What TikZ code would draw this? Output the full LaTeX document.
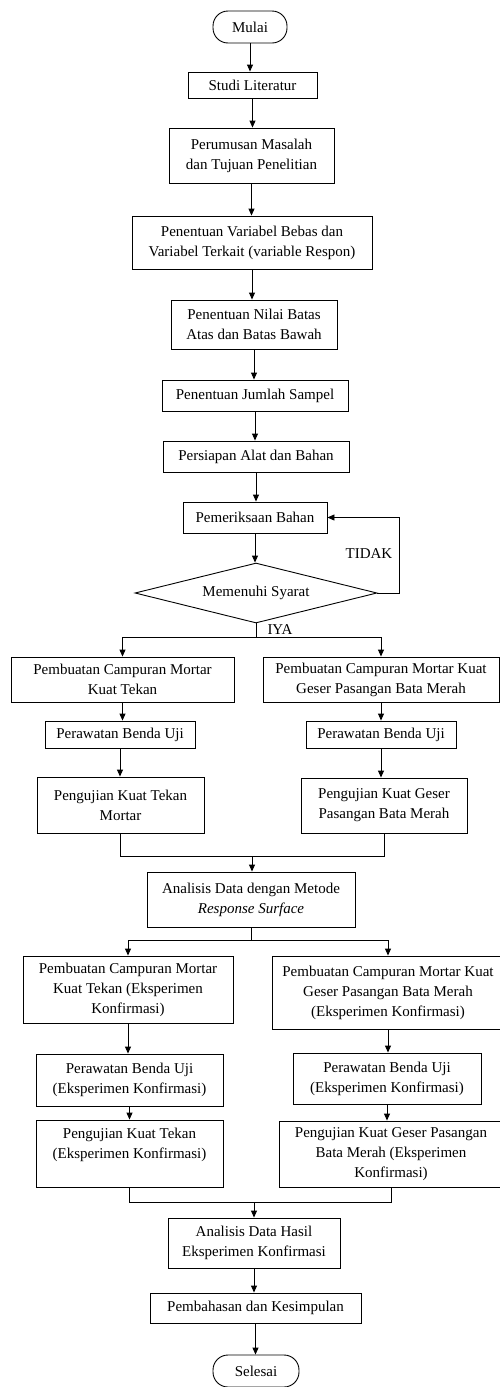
\documentclass[tikz,border=0pt]{standalone}
\usepackage{fontspec}
\setmainfont{Liberation Serif}
\usepackage{tikz}
\usetikzlibrary{positioning, arrows.meta, shapes.geometric}

\begin{document}
\begin{tikzpicture}[x=1pt, y=-1pt,
    box/.style={draw=black, line width=0.9pt, align=center, inner sep=3pt,
                font=\fontsize{15}{20}\selectfont},
    terminal/.style={box, rounded corners=15pt},
    decision/.style={box, diamond, aspect=4, inner sep=1pt},
    label/.style={font=\fontsize{15}{20}\selectfont, inner sep=0pt},
    arr/.style={-{Triangle[length=7pt, width=6pt]}, line width=0.9pt},
    line/.style={line width=0.9pt}]
    \useasboundingbox (0,0) rectangle (500,1387);

    % main column
    \node[terminal, minimum width=74, minimum height=32] (mulai) at (250,27) {Mulai};
    \node[box, minimum width=129, minimum height=26] (studi) at (252.5,85) {Studi Literatur};
    \node[box, minimum width=165, minimum height=55] (rumus) at (251.5,155.5)
        {Perumusan Masalah\\dan Tujuan Penelitian};
    \node[box, minimum width=240, minimum height=53] (variabel) at (252,242.5)
        {Penentuan Variabel Bebas dan\\Variabel Terkait (variable Respon)};
    \node[box, minimum width=166, minimum height=49] (batas) at (254,324.5)
        {Penentuan Nilai Batas\\Atas dan Batas Bawah};
    \node[box, minimum width=186, minimum height=31] (sampel) at (255,395.5) {Penentuan Jumlah Sampel};
    \node[box, minimum width=186, minimum height=31] (persiapan) at (256,456.5) {Persiapan Alat dan Bahan};
    \node[box, minimum width=144, minimum height=31] (periksa) at (255,517.5) {Pemeriksaan Bahan};
    \node[decision, minimum width=242, minimum height=60] (syarat) at (256,593) {Memenuhi Syarat};
    \coordinate (pisah1) at (256,637);

    % first branch
    \node[box, minimum width=223, minimum height=45] (tekanA) at (122.5,679.5)
        {Pembuatan Campuran Mortar\\Kuat Tekan};
    \node[box, minimum width=236, minimum height=45] (geserA) at (381,679.5)
        {Pembuatan Campuran Mortar Kuat\\Geser Pasangan Bata Merah};
    \node[box, minimum width=150, minimum height=27] (rawatA) at (120,734.5) {Perawatan Benda Uji};
    \node[box, minimum width=150, minimum height=27] (rawatB) at (381,734.5) {Perawatan Benda Uji};
    \node[box, minimum width=167, minimum height=56] (ujiA) at (120.5,805)
        {Pengujian Kuat Tekan\\Mortar};
    \node[box, minimum width=166, minimum height=55] (ujiB) at (384,805.5)
        {Pengujian Kuat Geser\\Pasangan Bata Merah};
    \coordinate (gabung1) at (252,856);

    \node[box, minimum width=208, minimum height=55] (analisis) at (251,899.5)
        {Analisis Data dengan Metode\\\textit{Response Surface}};
    \coordinate (pisah2) at (251,940);

    % confirmation branch
    \node[box, minimum width=210, minimum height=67] (tekanK) at (128,989.5)
        {Pembuatan Campuran Mortar\\Kuat Tekan (Eksperimen\\Konfirmasi)};
    \node[box, minimum width=232, minimum height=73] (geserK) at (388,992.5)
        {Pembuatan Campuran Mortar Kuat\\Geser Pasangan Bata Merah\\(Eksperimen Konfirmasi)};
    \node[box, minimum width=187, minimum height=52] (rawatKA) at (129.5,1080)
        {Perawatan Benda Uji\\(Eksperimen Konfirmasi)};
    \node[box, minimum width=188, minimum height=51] (rawatKB) at (387,1078.5)
        {Perawatan Benda Uji\\(Eksperimen Konfirmasi)};
    \node[box, minimum width=187, minimum height=67] (ujiKA) at (129.5,1153.5)
        {Pengujian Kuat Tekan\\(Eksperimen Konfirmasi)\\~};
    \node[box, minimum width=224, minimum height=66] (ujiKB) at (391,1154)
        {Pengujian Kuat Geser Pasangan\\Bata Merah (Eksperimen\\Konfirmasi)};
    \coordinate (gabung2) at (254,1202);

    \node[box, minimum width=172, minimum height=50] (hasil) at (254,1243)
        {Analisis Data Hasil\\Eksperimen Konfirmasi};
    \node[box, minimum width=211, minimum height=30] (bahas) at (255.5,1308) {Pembahasan dan Kesimpulan};
    \node[terminal, minimum width=86, minimum height=32] (selesai) at (256,1371) {Selesai};

    % connectors
    \draw[arr] (mulai) -- (mulai |- studi.north);
    \draw[arr] (studi) -- (studi |- rumus.north);
    \draw[arr] (rumus) -- (rumus |- variabel.north);
    \draw[arr] (variabel) -- (variabel |- batas.north);
    \draw[arr] (batas) -- (batas |- sampel.north);
    \draw[arr] (sampel) -- (sampel |- persiapan.north);
    \draw[arr] (persiapan) -- (persiapan |- periksa.north);
    \draw[arr] (periksa) -- (periksa |- syarat.north);
    \draw[arr] (syarat.east) -- ++(22,0) |- (periksa.east);
    \node[label] (tidak) at (369,554) {TIDAK};

    \draw[line] (syarat.south) -- (pisah1);
    \node[label] (iya) at (280,630) {IYA};
    \draw[arr] (pisah1) -| (tekanA.north);
    \draw[arr] (pisah1) -| (geserA.north);
    \draw[arr] (tekanA) -- (tekanA |- rawatA.north);
    \draw[arr] (geserA) -- (geserA |- rawatB.north);
    \draw[arr] (rawatA) -- (rawatA |- ujiA.north);
    \draw[arr] (rawatB) -- (rawatB |- ujiB.north);
    \draw[line] (ujiA.south) |- (gabung1) -| (ujiB.south);
    \draw[arr] (gabung1) -- (gabung1 |- analisis.north);

    \draw[line] (analisis.south) -- (pisah2);
    \draw[arr] (pisah2) -| (tekanK.north);
    \draw[arr] (pisah2) -| (geserK.north);
    \draw[arr] (tekanK) -- (tekanK |- rawatKA.north);
    \draw[arr] (geserK) -- (geserK |- rawatKB.north);
    \draw[arr] (rawatKA) -- (rawatKA |- ujiKA.north);
    \draw[arr] (rawatKB) -- (rawatKB |- ujiKB.north);
    \draw[line] (ujiKA.south) |- (gabung2) -| (ujiKB.south);
    \draw[arr] (gabung2) -- (gabung2 |- hasil.north);
    \draw[arr] (hasil) -- (hasil |- bahas.north);
    \draw[arr] (bahas) -- (bahas |- selesai.north);
\end{tikzpicture}
\end{document}
